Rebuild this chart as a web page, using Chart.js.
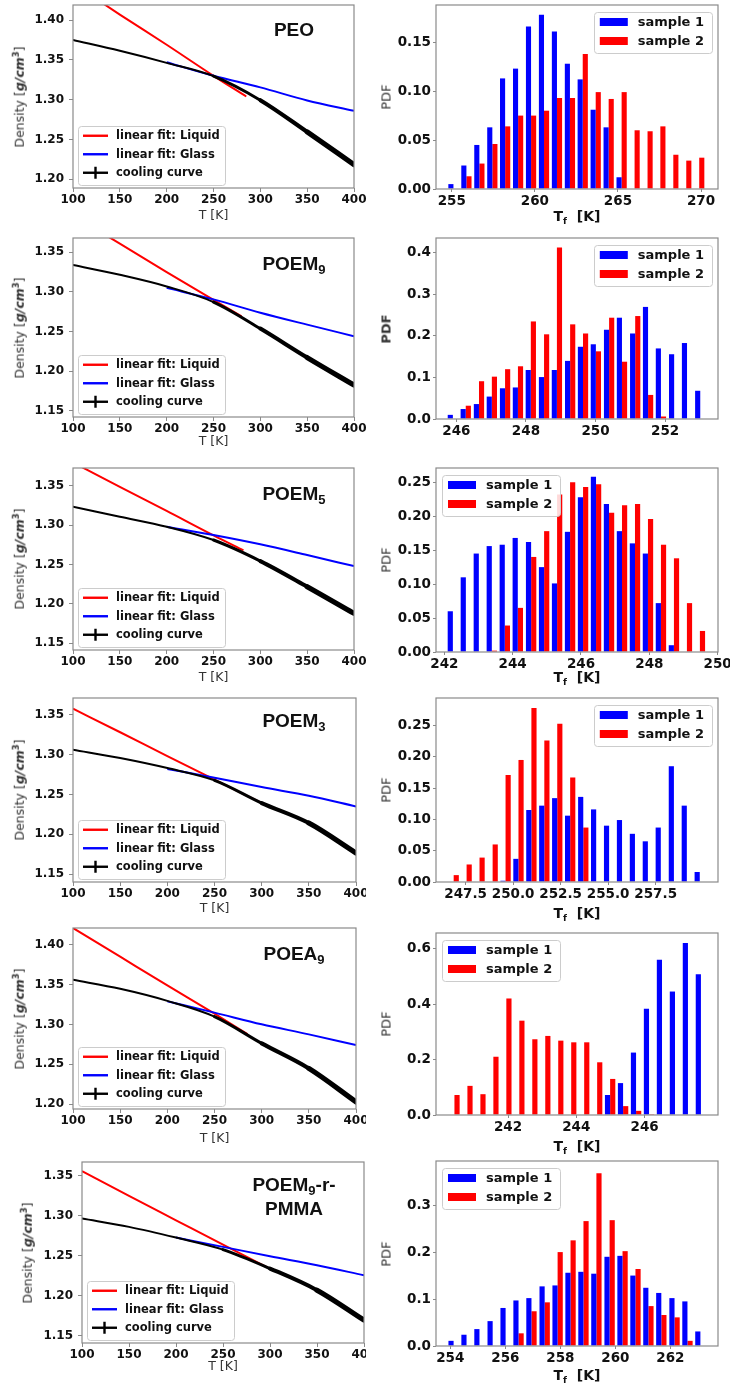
<!DOCTYPE html>
<html><head><meta charset="utf-8">
<script src="https://cdn.jsdelivr.net/npm/chart.js@4.4.1/dist/chart.umd.min.js"></script>
<style>
html,body{margin:0;padding:0;background:#fff}
body{width:730px;height:1388px;position:relative;overflow:hidden;font-family:"DejaVu Sans",sans-serif}
.col{position:absolute;top:0;height:1388px;overflow:hidden}
.t{position:absolute;white-space:nowrap;line-height:1;transform:translate(-50%,-50%)}
.rot{transform:translate(-50%,-50%) rotate(-90deg)}
.ax{font-size:12.5px;color:#333}
.pdf{font-size:13px;color:#333}
.tf{font-size:14px;font-weight:bold;color:#111}
.pl{font-family:"Liberation Sans",Arial,sans-serif;font-weight:bold;font-size:19px;color:#111;text-align:center;line-height:21.5px}
.sb{position:relative;top:4px;font-size:13px}
</style>
</head>
<body>
<div id="colL" class="col" style="left:0;width:366px"></div>
<div id="colR" class="col" style="left:366px;width:364px"></div>
<script>
// ---------- tick labels ----------
const tempTicks = [100, 150, 200, 250, 300, 350, 400];
const densTicksA = [1.20, 1.25, 1.30, 1.35, 1.40];
const densTicksB = [1.15, 1.20, 1.25, 1.30, 1.35];
const peoTfTicks = [255, 260, 265, 270];
const poem9TfTicks = [246, 248, 250, 252];
const poem5TfTicks = [242, 244, 246, 248, 250];
const poem3TfTicks = [247.5, 250, 252.5, 255, 257.5];
const poea9TfTicks = [242, 244, 246];
const pmmaTfTicks = [254, 256, 258, 260, 262];
const peoPdfTicks = [0, 0.05, 0.10, 0.15];
const poem9PdfTicks = [0, 0.1, 0.2, 0.3, 0.4];
const poem5PdfTicks = [0, 0.05, 0.10, 0.15, 0.20, 0.25];
const poem3PdfTicks = [0, 0.05, 0.10, 0.15, 0.20, 0.25];
const poea9PdfTicks = [0, 0.2, 0.4, 0.6];
const pmmaPdfTicks = [0, 0.1, 0.2, 0.3];

// ---------- density vs T (cooling curves and fits) ----------
const coolT = [100, 150, 200, 250, 300, 350, 400];
const glassT = [200, 250, 300, 350, 400];

const peoCool = [1.375, 1.3614, 1.3463, 1.3296, 1.2994, 1.2595, 1.2184];
const peoGlass = [1.347, 1.3300, 1.3155, 1.2990, 1.2860];
const peoLiquidT = [100, 150, 200, 250, 285];
const peoLiquid = [1.446, 1.407, 1.369, 1.330, 1.304];

const poem9Cool = [1.334, 1.3215, 1.3068, 1.2871, 1.2536, 1.2170, 1.1823];
const poem9Glass = [1.305, 1.2905, 1.2737, 1.2586, 1.2440];
const poem9LiquidT = [100, 150, 200, 250, 280];
const poem9Liquid = [1.396, 1.361, 1.325, 1.290, 1.269];

const poem5Cool = [1.3234, 1.3107, 1.2980, 1.2811, 1.2544, 1.2219, 1.1880];
const poem5Glass = [1.298, 1.2874, 1.2756, 1.2620, 1.2480];
const poem5LiquidT = [100, 150, 200, 250, 282];
const poem5Liquid = [1.3795, 1.3485, 1.318, 1.287, 1.268];

const poem3Cool = [1.3061, 1.2956, 1.2830, 1.2676, 1.2391, 1.2140, 1.1764];
const poem3Glass = [1.282, 1.2710, 1.2592, 1.2483, 1.2349];
const poem3LiquidT = [100, 150, 200, 250, 302];
const poem3Liquid = [1.3575, 1.328, 1.298, 1.2685, 1.238];

const poea9Cool = [1.356, 1.3447, 1.3296, 1.3099, 1.2763, 1.2449, 1.2029];
const poea9Glass = [1.329, 1.3149, 1.3002, 1.2876, 1.2742];
const poea9LiquidT = [100, 150, 200, 250, 285];
const poea9Liquid = [1.421, 1.385, 1.349, 1.3135, 1.288];

const pmmaCool = [1.2967, 1.2863, 1.2729, 1.2579, 1.2342, 1.2071, 1.1696];
const pmmaGlass = [1.2729, 1.2613, 1.2496, 1.2383, 1.2258];
const pmmaLiquidT = [100, 150, 200, 250, 305];
const pmmaLiquid = [1.356, 1.325, 1.2945, 1.264, 1.231];

// ---------- T_f histograms (bin centres, PDF of sample 1 and sample 2) ----------
const peoBins = [255.10, 255.88, 256.66, 257.44, 258.21, 258.99, 259.77, 260.55, 261.33, 262.11, 262.88, 263.66, 264.44, 265.22, 266.00, 266.78, 267.55, 268.33, 269.11, 269.89];
const peoS1 = [0.005, 0.024, 0.045, 0.063, 0.113, 0.123, 0.166, 0.178, 0.161, 0.128, 0.112, 0.081, 0.063, 0.012, 0, 0, 0, 0, 0, 0];
const peoS2 = [0, 0.013, 0.026, 0.046, 0.064, 0.075, 0.075, 0.080, 0.093, 0.093, 0.138, 0.099, 0.092, 0.099, 0.060, 0.059, 0.064, 0.035, 0.029, 0.032];

const poem9Bins = [245.90, 246.27, 246.65, 247.02, 247.40, 247.77, 248.14, 248.52, 248.89, 249.27, 249.64, 250.01, 250.39, 250.76, 251.14, 251.51, 251.88, 252.26, 252.63, 253.01];
const poem9S1 = [0.010, 0.024, 0.036, 0.054, 0.074, 0.076, 0.118, 0.101, 0.118, 0.140, 0.174, 0.180, 0.215, 0.244, 0.206, 0.270, 0.170, 0.156, 0.183, 0.068];
const poem9S2 = [0, 0.032, 0.091, 0.102, 0.120, 0.127, 0.235, 0.204, 0.413, 0.228, 0.206, 0.163, 0.244, 0.138, 0.248, 0.058, 0.006, 0, 0, 0];

const poem5Bins = [242.25, 242.63, 243.01, 243.39, 243.77, 244.15, 244.54, 244.92, 245.30, 245.68, 246.06, 246.44, 246.82, 247.20, 247.58, 247.96, 248.34, 248.72, 249.10, 249.48];
const poem5S1 = [0.060, 0.110, 0.145, 0.156, 0.158, 0.168, 0.162, 0.125, 0.101, 0.177, 0.228, 0.258, 0.218, 0.178, 0.160, 0.145, 0.072, 0.010, 0, 0];
const poem5S2 = [0, 0, 0, 0.002, 0.039, 0.065, 0.140, 0.178, 0.232, 0.250, 0.243, 0.247, 0.205, 0.216, 0.218, 0.196, 0.158, 0.138, 0.072, 0.031];

const poem3Bins = [246.87, 247.55, 248.23, 248.92, 249.60, 250.28, 250.96, 251.64, 252.32, 253.00, 253.69, 254.37, 255.05, 255.73, 256.41, 257.09, 257.77, 258.46, 259.14, 259.82];
const poem3S1 = [0, 0, 0, 0, 0.002, 0.037, 0.115, 0.122, 0.134, 0.106, 0.136, 0.116, 0.090, 0.099, 0.077, 0.065, 0.087, 0.185, 0.122, 0.016];
const poem3S2 = [0.011, 0.028, 0.039, 0.060, 0.171, 0.195, 0.278, 0.226, 0.253, 0.167, 0.087, 0, 0, 0, 0, 0, 0, 0, 0, 0];

const poea9Bins = [240.43, 240.81, 241.19, 241.57, 241.95, 242.33, 242.71, 243.09, 243.47, 243.85, 244.23, 244.61, 244.99, 245.37, 245.75, 246.13, 246.51, 246.89, 247.27, 247.65];
const poea9S1 = [0, 0, 0, 0, 0, 0, 0, 0, 0, 0, 0, 0, 0.072, 0.115, 0.225, 0.383, 0.560, 0.445, 0.620, 0.507];
const poea9S2 = [0.072, 0.105, 0.075, 0.210, 0.420, 0.340, 0.273, 0.285, 0.268, 0.262, 0.262, 0.190, 0.130, 0.032, 0.015, 0.003, 0, 0, 0, 0];

const pmmaBins = [254.12, 254.59, 255.06, 255.54, 256.01, 256.48, 256.95, 257.43, 257.90, 258.37, 258.84, 259.31, 259.79, 260.26, 260.73, 261.20, 261.67, 262.15, 262.62, 263.09];
const pmmaS1 = [0.011, 0.024, 0.036, 0.053, 0.081, 0.097, 0.102, 0.127, 0.129, 0.156, 0.158, 0.154, 0.190, 0.192, 0.150, 0.124, 0.113, 0.102, 0.095, 0.031];
const pmmaS2 = [0, 0, 0, 0, 0, 0.027, 0.074, 0.093, 0.200, 0.225, 0.266, 0.368, 0.268, 0.202, 0.164, 0.085, 0.066, 0.061, 0.011, 0];

// ---------- layout / drawing ----------
const SPINE = '#8a8a8a';
const ML = 64, MT = 14, MR = 26, MB = 26;
const COLR_X = 366;
const colL = document.getElementById('colL');
const colR = document.getElementById('colR');

function zip(xs, ys) { return xs.map((x, i) => ({ x: x, y: ys[i] })); }

const frame = {
  id: 'frame',
  afterDatasetsDraw(chart) {
    const ctx = chart.ctx, a = chart.chartArea;
    ctx.save();
    ctx.strokeStyle = SPINE; ctx.lineWidth = 1.2;
    ctx.strokeRect(a.left, a.top, a.right - a.left, a.bottom - a.top);
    ctx.restore();
  }
};

const boxLegend = {
  id: 'boxLegend',
  afterDraw(chart, args, o) {
    if (!o || !o.items) return;
    const ctx = chart.ctx, a = chart.chartArea;
    const ds = o.items.map(i => chart.data.datasets[i]);
    ctx.save();
    ctx.font = 'bold ' + o.size + 'px "DejaVu Sans"';
    const tw = Math.max(...ds.map(d => ctx.measureText(d.label).width));
    const w = o.padL + o.handleW + o.gap + tw + o.padR;
    const h = o.padTop + o.rowH * ds.length + o.padBottom;
    const x = o.corner.endsWith('right') ? a.right - o.insetX - w : a.left + o.insetX;
    const y = o.corner.startsWith('lower') ? a.bottom - o.insetY - h : a.top + o.insetY;
    ctx.beginPath();
    ctx.roundRect(Math.round(x) + 0.5, Math.round(y) + 0.5, Math.round(w), Math.round(h), 3);
    ctx.fillStyle = 'rgba(255,255,255,0.85)'; ctx.fill();
    ctx.strokeStyle = '#cccccc'; ctx.lineWidth = 1; ctx.stroke();
    ds.forEach((d, k) => {
      const cy = y + o.padTop + o.rowH * (k + 0.5);
      const hx = x + o.padL;
      if (o.kind === 'bar') {
        ctx.fillStyle = d.backgroundColor;
        ctx.fillRect(hx, cy - o.handleH / 2, o.handleW, o.handleH);
      } else {
        ctx.strokeStyle = d.borderColor; ctx.lineWidth = 2.4;
        ctx.beginPath(); ctx.moveTo(hx, cy); ctx.lineTo(hx + o.handleW, cy); ctx.stroke();
        if (o.items[k] === o.cross) {
          ctx.beginPath(); ctx.moveTo(hx + o.handleW / 2, cy - 6); ctx.lineTo(hx + o.handleW / 2, cy + 6); ctx.stroke();
        }
      }
      ctx.fillStyle = '#111'; ctx.textBaseline = 'middle'; ctx.textAlign = 'left';
      ctx.fillText(d.label, hx + o.handleW + o.gap, cy + 0.5);
    });
    ctx.restore();
  }
};

function axisCfg(o) {
  return {
    type: 'linear', min: o.min, max: o.max, offset: false,
    afterBuildTicks: s => { s.ticks = o.ticks.map(v => ({ value: v })); },
    afterFit: s => { s[o.fit] = o.fitVal; },
    ticks: {
      font: { family: 'DejaVu Sans', size: o.size, weight: 'bold' }, color: '#111',
      padding: o.pad, maxRotation: 0, minRotation: 0, autoSkip: false,
      callback: v => Number(v).toFixed(o.dec)
    },
    grid: { display: true, drawOnChartArea: false, drawTicks: true, tickLength: o.tl, color: SPINE, lineWidth: 1, offset: false },
    border: { display: false }
  };
}

function makeCanvas(parent, ox, r) {
  const c = document.createElement('canvas');
  const w = r[2] - r[0] + ML + MR, h = r[3] - r[1] + MT + MB;
  c.width = w; c.height = h;
  c.style.cssText = 'position:absolute;left:' + (r[0] - ML - ox) + 'px;top:' + (r[1] - MT) + 'px;width:' + w + 'px;height:' + h + 'px';
  parent.appendChild(c);
  return c;
}

function txt(parent, html, x, y, cls) {
  const d = document.createElement('div');
  d.className = 't ' + cls;
  d.innerHTML = html;
  d.style.left = x + 'px'; d.style.top = y + 'px';
  parent.appendChild(d);
}

function coolWidth(c) {
  const t = (c.p0.parsed.x + c.p1.parsed.x) / 2;
  return 2 + Math.max(0, t - 230) * 0.022;
}

function densityPanel(p) {
  const r = p.rect;
  const c = makeCanvas(colL, 0, r);
  new Chart(c, {
    type: 'line',
    data: { datasets: [
      { label: 'cooling curve', data: zip(coolT, p.cool), borderColor: '#000000', borderWidth: 2, pointRadius: 0,
        cubicInterpolationMode: 'monotone', borderCapStyle: 'round', segment: { borderWidth: coolWidth } },
      { label: 'linear fit: Glass', data: zip(glassT, p.glass), borderColor: '#0000ff', borderWidth: 2, pointRadius: 0, cubicInterpolationMode: 'monotone' },
      { label: 'linear fit: Liquid', data: zip(p.liqT, p.liq), borderColor: '#ff0000', borderWidth: 2, pointRadius: 0, cubicInterpolationMode: 'monotone' }
    ] },
    options: {
      responsive: false, animation: false, devicePixelRatio: 1, events: [],
      layout: { padding: { left: 0, top: MT, right: MR, bottom: 0 } },
      scales: {
        x: axisCfg({ min: 100, max: 400, ticks: tempTicks, dec: 0, size: 12, fit: 'height', fitVal: MB, pad: 1, tl: 4 }),
        y: axisCfg({ min: p.y[0], max: p.y[1], ticks: p.yt, dec: 2, size: 12, fit: 'width', fitVal: ML, pad: 5, tl: 4 })
      },
      plugins: {
        legend: { display: false }, tooltip: { enabled: false },
        boxLegend: { items: [2, 1, 0], cross: 0, kind: 'line', corner: 'lowerleft', size: 11.5, rowH: 18.5,
          padTop: 0.5, padBottom: 3, padL: 5, handleW: 25, handleH: 0, gap: 8, padR: 5, insetX: 5, insetY: 3 }
      }
    },
    plugins: [frame, boxLegend]
  });
  const cx = (r[0] + r[2]) / 2, cy = (r[1] + r[3]) / 2;
  txt(colL, 'T [K]', cx, p.tY, 'ax');
  txt(colL, 'Density [<b><i>g/cm</i><span style="position:relative;top:-5px;font-size:8.5px">3</span></b>]', p.dX, cy, 'ax rot');
  txt(colL, p.name, 294, p.nameY, 'pl');
}

function pdfPanel(p) {
  const r = p.rect;
  const c = makeCanvas(colR, COLR_X, r);
  new Chart(c, {
    type: 'bar',
    data: { datasets: [
      { label: 'sample 1', data: zip(p.bins, p.s1), backgroundColor: '#0000ff' },
      { label: 'sample 2', data: zip(p.bins, p.s2), backgroundColor: '#ff0000' }
    ] },
    options: {
      responsive: false, animation: false, devicePixelRatio: 1, events: [],
      datasets: { bar: { categoryPercentage: 0.8, barPercentage: 1, borderWidth: 0, grouped: true } },
      layout: { padding: { left: 0, top: MT, right: MR, bottom: 0 } },
      scales: {
        x: axisCfg({ min: p.x[0], max: p.x[1], ticks: p.xt, dec: p.xd, size: 13.5, fit: 'height', fitVal: MB, pad: 1, tl: 3 }),
        y: axisCfg({ min: 0, max: p.ymax, ticks: p.yt, dec: p.yd, size: 13.5, fit: 'width', fitVal: ML, pad: 2, tl: 3 })
      },
      plugins: {
        legend: { display: false }, tooltip: { enabled: false },
        boxLegend: { items: [0, 1], kind: 'bar', corner: p.corner, size: 13, rowH: 19,
          padTop: 0.5, padBottom: 2, padL: 6, handleW: 28, handleH: 8, gap: 10, padR: 8, insetX: 6, insetY: 7 }
      }
    },
    plugins: [frame, boxLegend]
  });
  const cx = (r[0] + r[2]) / 2 - COLR_X, cy = (r[1] + r[3]) / 2;
  txt(colR, p.boldPdf ? '<b>PDF</b>' : 'PDF', 386 - COLR_X, cy, 'pdf rot');
  if (p.tfY !== null) txt(colR, 'T<span style="position:relative;top:3px;font-size:9px">f</span>&nbsp; [K]', cx, p.tfY, 'tf');
}

const panelsL = [
  { rect: [73, 5, 354, 188], y: [1.189, 1.419], yt: densTicksA, cool: peoCool, glass: peoGlass, liqT: peoLiquidT, liq: peoLiquid,
    name: 'PEO', nameY: 30, tY: 215, dX: 20 },
  { rect: [73, 238, 354, 417], y: [1.142, 1.368], yt: densTicksB, cool: poem9Cool, glass: poem9Glass, liqT: poem9LiquidT, liq: poem9Liquid,
    name: 'POEM<span class="sb">9</span>', nameY: 265, tY: 441, dX: 20 },
  { rect: [73, 468, 354, 650], y: [1.1415, 1.3725], yt: densTicksB, cool: poem5Cool, glass: poem5Glass, liqT: poem5LiquidT, liq: poem5Liquid,
    name: 'POEM<span class="sb">5</span>', nameY: 495, tY: 677, dX: 20 },
  { rect: [73, 698, 356, 882], y: [1.140, 1.371], yt: densTicksB, cool: poem3Cool, glass: poem3Glass, liqT: poem3LiquidT, liq: poem3Liquid,
    name: 'POEM<span class="sb">3</span>', nameY: 721.5, tY: 908, dX: 20 },
  { rect: [73, 928, 356, 1109], y: [1.194, 1.421], yt: densTicksA, cool: poea9Cool, glass: poea9Glass, liqT: poea9LiquidT, liq: poea9Liquid,
    name: 'POEA<span class="sb">9</span>', nameY: 955, tY: 1138, dX: 20 },
  { rect: [82, 1162, 364, 1343], y: [1.141, 1.3675], yt: densTicksB, cool: pmmaCool, glass: pmmaGlass, liqT: pmmaLiquidT, liq: pmmaLiquid,
    name: 'POEM<span class="sb">9</span>-r-<br>PMMA', nameY: 1196, tY: 1366, dX: 28 }
];

const panelsR = [
  { rect: [436, 5, 718, 189], x: [254.05, 271.02], xt: peoTfTicks, xd: 0, ymax: 0.188, yt: peoPdfTicks, yd: 2,
    bins: peoBins, s1: peoS1, s2: peoS2, corner: 'upperright', tfY: 216, boldPdf: false },
  { rect: [436, 238, 718, 419], x: [245.415, 253.52], xt: poem9TfTicks, xd: 0, ymax: 0.436, yt: poem9PdfTicks, yd: 1,
    bins: poem9Bins, s1: poem9S1, s2: poem9S2, corner: 'upperright', tfY: null, boldPdf: true },
  { rect: [436, 468, 718, 652], x: [241.756, 250.01], xt: poem5TfTicks, xd: 0, ymax: 0.271, yt: poem5PdfTicks, yd: 2,
    bins: poem5Bins, s1: poem5S1, s2: poem5S2, corner: 'upperleft', tfY: 677, boldPdf: false },
  { rect: [436, 698, 718, 882], x: [245.94, 260.78], xt: poem3TfTicks, xd: 1, ymax: 0.294, yt: poem3PdfTicks, yd: 2,
    bins: poem3Bins, s1: poem3S1, s2: poem3S2, corner: 'upperright', tfY: 913, boldPdf: false },
  { rect: [436, 933, 718, 1115], x: [239.89, 248.15], xt: poea9TfTicks, xd: 0, ymax: 0.656, yt: poea9PdfTicks, yd: 1,
    bins: poea9Bins, s1: poea9S1, s2: poea9S2, corner: 'upperleft', tfY: 1146, boldPdf: false },
  { rect: [436, 1161, 718, 1346], x: [253.48, 263.73], xt: pmmaTfTicks, xd: 0, ymax: 0.394, yt: pmmaPdfTicks, yd: 1,
    bins: pmmaBins, s1: pmmaS1, s2: pmmaS2, corner: 'upperleft', tfY: 1375, boldPdf: false }
];

panelsL.forEach(densityPanel);
panelsR.forEach(pdfPanel);
</script>
</body></html>
